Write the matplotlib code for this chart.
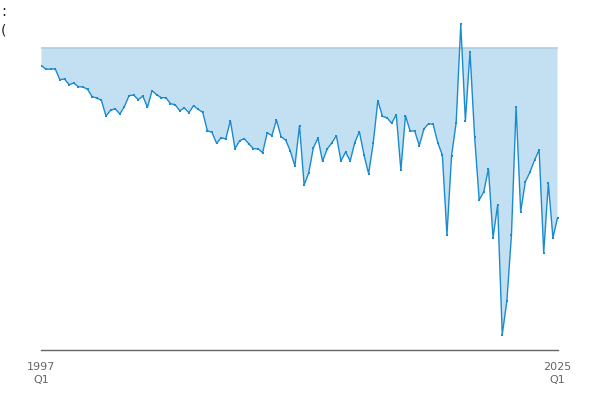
import numpy as np
import matplotlib
matplotlib.use("Agg")
import matplotlib.pyplot as plt

# quarterly series, 1997 Q1 .. 2025 Q1
values = [
    -1.77, -2.13, -2.10, -2.10, -3.17, -3.10, -3.67, -3.50, -3.87, -3.90,
    -4.13, -4.87, -5.00, -5.23, -6.80, -6.23, -6.07, -6.60, -5.87, -4.77,
    -4.70, -5.17, -4.80, -5.93, -4.27, -4.67, -4.97, -4.97, -5.57, -5.67,
    -6.27, -6.00, -6.47, -5.77, -6.13, -6.43, -8.27, -8.43, -9.53, -8.97,
    -9.10, -7.27, -10.07, -9.27, -9.07, -9.58, -10.07, -10.07, -10.47, -8.47,
    -8.77, -7.20, -8.87, -9.20, -10.30, -11.80, -7.77, -13.70, -12.50, -10.00,
    -9.00, -11.33, -10.10, -9.50, -8.77, -11.30, -10.40, -11.30, -9.45, -8.37,
    -10.70, -12.57, -9.53, -5.27, -6.83, -6.97, -7.53, -6.67, -12.20, -6.77,
    -8.30, -8.30, -9.77, -8.10, -7.57, -7.63, -9.47, -10.70, -18.70, -10.77,
    -7.47, 2.37, -7.30, -0.37, -8.87, -15.20, -14.37, -12.07, -18.97, -15.70,
    -28.67, -25.30, -18.70, -5.87, -16.37, -13.40, -12.43, -11.23, -10.20, -20.47,
    -13.53, -18.97, -16.97,
]
tick_pos = [0, 112]
tick_labels = ["1997\nQ1", "2025\nQ1"]

line_col = "#1b8bd0"
fill_col = "#c2e0f2"

v = np.array(values)
x = np.arange(len(v))

fig = plt.figure(figsize=(6, 4), dpi=100)
ax = fig.add_axes([41 / 600, 50 / 400, 517 / 600, 330 / 400])

ax.fill_between(x, v, 0, where=v <= 0, interpolate=True, color=fill_col, lw=0)
ax.plot([0, len(v) - 1], [0, 0], color="#aecfe3", lw=1.2)
ax.plot(x, v, color=line_col, lw=1, marker="s", ms=1.8, mew=0)

ax.set_xlim(-0.1, len(v) - 1 + 0.1)
ax.set_ylim(-30.2, 2.8)
for s in ["top", "right", "left"]:
    ax.spines[s].set_visible(False)
ax.spines["bottom"].set_color("#666666")
ax.spines["bottom"].set_linewidth(1)
ax.set_yticks([])
ax.set_xticks(tick_pos)
ax.set_xticklabels(tick_labels, fontsize=8, color="#666666", linespacing=1.3)
ax.tick_params(axis="x", length=0, pad=9)

# truncated title fragments at the top left
fig.text(0.002, 1 - 11 / 400, ":", fontsize=10.5, color="#222222", va="center")
fig.text(0.002, 1 - 30 / 400, "(", fontsize=10, color="#222222", va="center")

fig.savefig("out.png", dpi=100)
